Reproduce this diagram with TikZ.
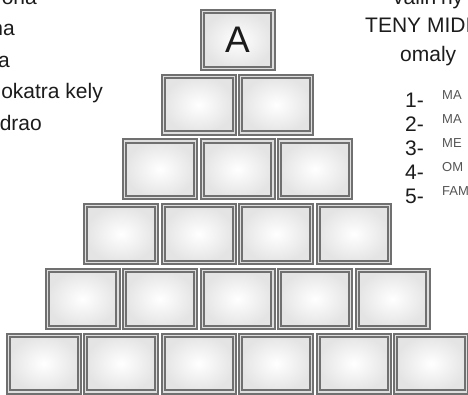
\documentclass[tikz,border=0pt]{standalone}
\usepackage{fontspec}
\setmainfont{Liberation Sans}
\definecolor{frame}{RGB}{112,112,112}
\definecolor{framelight}{RGB}{222,222,222}
\definecolor{tileedge}{RGB}{228,228,228}
\definecolor{ink}{RGB}{28,28,28}
\definecolor{labelgray}{RGB}{85,85,85}
\begin{document}
\begin{tikzpicture}[x=1pt,y=-1pt,
  tile/.style={rectangle, minimum width=70.8pt, minimum height=56.8pt, inner sep=0pt,
    draw=frame, line width=2pt, double=framelight, double distance=1.2pt,
    inner color=white, outer color=tileedge},
  lefttext/.style={anchor=base east, inner sep=0pt, text=ink, font=\fontsize{21}{25}\selectfont},
  righttext/.style={anchor=base west, inner sep=0pt, text=ink, font=\fontsize{21}{25}\selectfont},
  numtext/.style={anchor=base west, inner sep=0pt, text=ink, font=\fontsize{21}{25}\selectfont},
  itemtext/.style={anchor=base west, inner sep=0pt, text=labelgray, font=\fontsize{13}{15}\selectfont}]
\useasboundingbox (0,0) rectangle (468,395);
\fill[white] (0,0) rectangle (468,395);
% left text fragments
\node[lefttext] (l1) at (37,5) {ona};
\node[lefttext] (l2) at (15,36) {na};
\node[lefttext] (l3) at (10,68) {a};
\node[lefttext] (l4) at (103,99) {okatra kely};
\node[lefttext] (l5) at (42,131) {drao};
% right heading
\node[righttext] (h1) at (393,5) {valin'ny};
\node[righttext] (h2) at (365,33) {TENY MIDI};
\node[righttext] (h3) at (400,62) {omaly};
% numbered list
\node[numtext] (n1) at (405,108) {1-};
\node[numtext] (n2) at (405,132) {2-};
\node[numtext] (n3) at (405,156) {3-};
\node[numtext] (n4) at (405,180) {4-};
\node[numtext] (n5) at (405,204) {5-};
\node[itemtext] (i1) at (442,100) {MA};
\node[itemtext] (i2) at (442,124) {MA};
\node[itemtext] (i3) at (442,148) {ME};
\node[itemtext] (i4) at (442,172) {OM};
\node[itemtext] (i5) at (442,196) {FAM};
% pyramid
\node[tile, font=\fontsize{37}{40}\selectfont, text=ink] (t00) at (237.5,40) {A};
\foreach \r in {1,...,5}{
  \foreach \c in {0,...,\r}{
    \node[tile] (t\r\c) at ({237.5+(\c-\r/2)*77.5},{40+\r*64.7}) {};
  }
}
\end{tikzpicture}
\end{document}
